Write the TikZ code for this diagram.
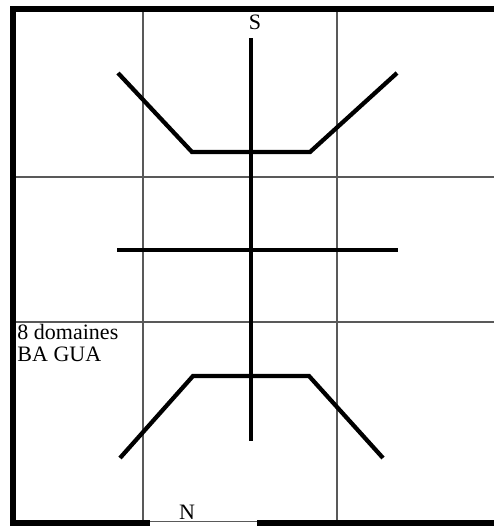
\documentclass[tikz,border=0pt]{standalone}
\usepackage{fontspec}
\setmainfont{Liberation Serif}

\tikzset{every picture/.style={line width=0.75pt}}
\tikzset{
  gridline/.style={draw=black!65, line width=0.9pt},
  frameline/.style={draw=black, line width=4.8pt},
  signline/.style={draw=black, line width=3.2pt, line join=miter},
  label/.style={inner sep=0.75pt, font=\fontsize{16.5}{16}\selectfont}
}

\begin{document}
\begin{tikzpicture}[x=0.75pt,y=0.75pt,yscale=-1,xscale=1]
\useasboundingbox (0,0) rectangle (494,526);

%Grid lines
\draw [gridline] (143,9) -- (143,521) ;
\draw [gridline] (337,9) -- (337,521) ;
\draw [gridline] (13,177) -- (494,177) ;
\draw [gridline] (13,322) -- (494,322) ;
\draw [gridline] (13,521.5) -- (258,521.5) ;

%Frame
\draw [frameline] (13,526) -- (13,9) -- (494,9) ;
\draw [frameline] (10,523.5) -- (150,523.5) ;
\draw [frameline] (257,523.5) -- (494,523.5) ;

%Straight Lines
\draw [signline] (251,38) -- (251,441) ;
%Straight Lines
\draw [signline] (118,73) -- (192,152) -- (310,152) -- (397,73) ;
%Straight Lines
\draw [signline] (117,250) -- (398,250) ;
%Straight Lines
\draw [signline] (120,458) -- (193,376) -- (309,376) -- (383,458) ;

% Text Node
\node (south) [label] at (255,22) {S};
% Text Node
\node (north) [label] at (187,512) {N};
% Text Node
\node (domaines) [label, anchor=north west, align=left] at (16,323) {8 domaines\\BA GUA};
\end{tikzpicture}
\end{document}
